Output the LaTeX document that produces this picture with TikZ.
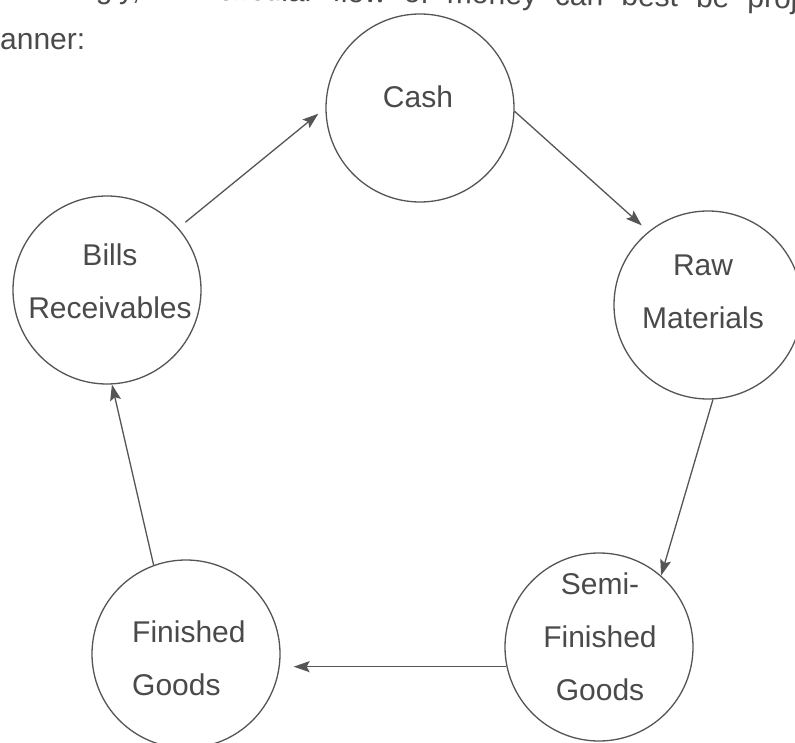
\documentclass[tikz,border=0pt]{standalone}
\usepackage{fontspec}
\setmainfont{Liberation Sans}
\usetikzlibrary{arrows.meta}
\definecolor{ink}{HTML}{4A4A4A}
\definecolor{rim}{HTML}{555555}
\begin{document}
\begin{tikzpicture}[x=1pt,y=-1pt,
  stage/.style={circle,draw=rim,line width=1.3pt,minimum size=188pt,inner sep=0pt},
  caption/.style={font=\fontsize{30}{53}\selectfont,text=ink,align=center,anchor=base,inner sep=0pt},
  flow/.style={draw=rim,line width=1.3pt,-{Stealth[length=16pt,width=11pt,inset=3pt]}}]
\useasboundingbox (0,0) rectangle (795,743);
\clip (0,0) rectangle (795,743);
\fill[white] (0,0) rectangle (795,743);

% running text of the page around the figure
\node[caption,anchor=base west,rotate=-0.8] (lead) at (-21,-3)
  {\spaceskip=0.6em Accordingly, the circular flow of money can best be projected in the following};
\node[caption,anchor=base west] (leadend) at (-25,50) {manner:};

% the five stages of the cycle
\node[stage] (cash)     at (420,108) {};
\node[stage] (raw)      at (708,305) {};
\node[stage] (semi)     at (599,647) {};
\node[stage] (finished) at (186,654) {};
\node[stage] (bills)    at (107,290) {};

% labels (a multi-line label is placed by the baseline of its last line)
\node[caption] (cashtext)     at (418,108) {Cash};
\node[caption] (rawtext)      at (703,328) {Raw\\Materials};
\node[caption] (semitext)     at (600,700) {Semi-\\Finished\\Goods};
\node[caption,anchor=base west,align=left] (finishedtext) at (132,695) {Finished\\Goods};
\node[caption] (billstext)    at (110,318) {Bills\\Receivables};

% flow of money between the stages
\draw[flow,shorten <=9pt,shorten >=9pt] (bills.41) -- (cash.180);
\draw[flow,shorten >=9pt] (cash.-2) -- (raw.129);
\draw[flow] (raw.-87) -- (semi.49);
\coordinate (semiout) at (semi.192);
\draw[flow,shorten >=13pt] (semiout) -- (semiout -| finished.east);
\draw[flow] (finished.110) -- (bills.-87);
\end{tikzpicture}
\end{document}
